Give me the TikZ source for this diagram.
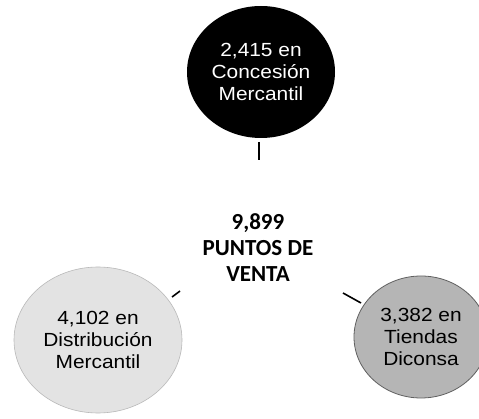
\documentclass[tikz,border=0pt]{standalone}
\usepackage{fontspec}
\setmainfont{Liberation Sans}
\newfontfamily\carlito{Carlito}
\newfontfamily\arialx[FakeStretch=1.1]{Liberation Sans}
\usetikzlibrary{shapes.geometric}
\begin{document}
\begin{tikzpicture}[x=1pt,y=-1pt,
  bubble/.style={ellipse, inner sep=0pt, align=center,
    font=\arialx\fontsize{19}{22}\selectfont},
  tick/.style={line width=1.6pt, black}]
\useasboundingbox (0,0) rectangle (479,419);
\clip (0,0) rectangle (479,419);
\fill[white] (0,0) rectangle (479,419);
% center text
\node[align=center, font=\carlito\bfseries\fontsize{23}{26}\selectfont] (center) at (258,248)
  {9,899\\PUNTOS DE\\VENTA};
% circles
\node[bubble, minimum width=148pt, minimum height=132pt, fill=black, text=white] (conc) at (261,72)
  {2,415 en\\Concesión\\Mercantil};
\node[bubble, minimum width=168pt, minimum height=146pt, fill=gray!22, draw=gray!55, line width=0.6pt] (dist) at (98,340)
  {4,102 en\\Distribución\\Mercantil};
\node[bubble, minimum width=134pt, minimum height=122pt, fill=gray!58, draw=gray!75!black, line width=0.8pt] (dic) at (421,337)
  {3,382 en\\Tiendas\\Diconsa};
% connector ticks
\coordinate (t1a) at (259,142); \coordinate (t1b) at (259,160);
\coordinate (t2a) at (172,297); \coordinate (t2b) at (180,291);
\coordinate (t3a) at (343,293); \coordinate (t3b) at (361,303);
\draw[tick] (t1a) -- (t1b);
\draw[tick] (t2a) -- (t2b);
\draw[tick] (t3a) -- (t3b);
\end{tikzpicture}
\end{document}
